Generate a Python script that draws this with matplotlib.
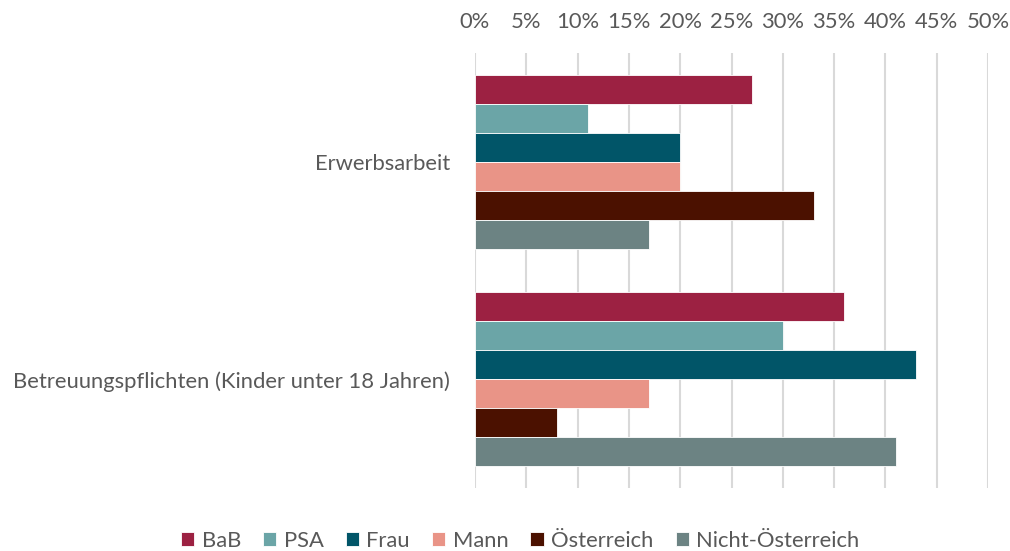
import numpy as np
import matplotlib.pyplot as plt
from matplotlib.ticker import PercentFormatter

plt.rcParams['font.family'] = ['Lato', 'DejaVu Sans']

categories = ["Erwerbsarbeit", "Betreuungspflichten (Kinder unter 18 Jahren)"]
series = ["BaB", "PSA", "Frau", "Mann", "Österreich", "Nicht-Österreich"]
colors = ["#9C2142", "#6BA5A7", "#015568", "#E99487", "#4B1100", "#6C8383"]
bab = [27, 36]
psa = [11, 30]
frau = [20, 43]
mann = [20, 17]
oesterreich = [33, 8]
nicht_oesterreich = [17, 41]
values = [bab, psa, frau, mann, oesterreich, nicht_oesterreich]

fig = plt.figure(figsize=(10.1, 5.51), dpi=100)
ax = fig.add_axes([475/1010, 1-488/551, 513/1010, 435/551])

y = np.arange(len(categories))
group = 0.8
h = group/len(series)
for i, (name, vals) in enumerate(zip(series, values)):
    off = -group/2 + h*(i+0.5)
    ax.barh(y+off, vals, height=h, color=colors[i], label=name,
            edgecolor='white', linewidth=0.6, zorder=3)

ax.set_xlim(0, 50)
ax.set_ylim(1.5, -0.5)
ax.set_xticks(np.arange(0, 51, 5))
ax.xaxis.set_major_formatter(PercentFormatter(decimals=0))
ax.xaxis.tick_top()
ax.set_yticks(y)
ax.set_yticklabels(categories)
ax.tick_params(axis='both', length=0, labelsize=15.8, colors='#595959')
ax.tick_params(axis='x', pad=15)
ax.tick_params(axis='y', pad=18)
ax.grid(axis='x', color='#D9D9D9', linewidth=1.5, zorder=0)
for s in ax.spines.values():
    s.set_visible(False)

fig.legend(loc='center', bbox_to_anchor=(0.515, 1-541/551), ncol=6, frameon=False,
           fontsize=15.8, labelcolor='#595959', handlelength=0.6, handleheight=0.6,
           handletextpad=0.35, columnspacing=1.0)

fig.savefig("out.png", dpi=100)
